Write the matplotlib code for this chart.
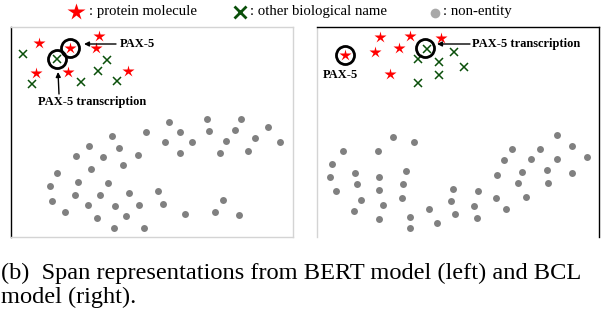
import numpy as np
import matplotlib.pyplot as plt

plt.rcParams['font.family'] = ['Liberation Serif', 'DejaVu Serif']

# ---- left panel (BERT) ----
l_star_x = [39, 99, 70, 96, 36, 68, 128]
l_star_y = [43, 36, 48, 48, 73, 72, 71]
l_cross_x = [23, 57, 107, 98, 32, 81, 117]
l_cross_y = [54, 59, 60, 71, 84, 82, 81]
l_dot_x = [169, 207, 241, 112, 146, 180, 209, 235, 268, 89, 119, 165, 192, 226, 255, 280,
           76, 103, 138, 180, 220, 248, 123, 91, 57, 78, 108, 50, 75, 100, 129, 158,
           52, 88, 115, 139, 163, 223, 65, 97, 126, 185, 215, 239, 114, 144]
l_dot_y = [122, 119, 119, 136, 132, 132, 131, 130, 127, 146, 148, 142, 142, 141, 138, 142,
           156, 157, 155, 153, 153, 151, 165, 169, 173, 182, 183, 186, 195, 195, 193, 191,
           201, 205, 206, 205, 204, 200, 212, 218, 216, 214, 212, 215, 228, 228]

# ---- right panel (BCL) ----
r_star_x = [380, 410, 441, 375, 399, 345, 390]
r_star_y = [37, 36, 38, 52, 48, 55, 74]
r_cross_x = [427, 418, 454, 439, 464, 439, 418]
r_cross_y = [49, 59, 52, 62, 67, 75, 83]
r_dot_x = [393, 414, 557, 343, 378, 512, 540, 572, 332, 504, 531, 557, 587,
           355, 406, 497, 522, 547, 572, 330, 379, 357, 403, 518, 548,
           336, 379, 453, 478, 361, 402, 496, 526, 451, 383, 474,
           354, 429, 506, 455, 379, 410, 477, 437, 410]
r_dot_y = [137, 142, 135, 151, 151, 149, 149, 146, 164, 160, 159, 159, 157,
           173, 171, 175, 172, 170, 173, 177, 177, 184, 184, 183, 183,
           191, 190, 189, 191, 200, 198, 198, 197, 201, 205, 206,
           211, 209, 209, 214, 219, 217, 218, 223, 228]

red = '#ff0000'
green = '#0a4f0a'
gray = '#808080'

fig = plt.figure(figsize=(6.12, 3.16), dpi=100)
W, H = 612, 316


def panel(x0, x1, y0, y1):
    ax = fig.add_axes([x0 / W, 1 - y1 / H, (x1 - x0) / W, (y1 - y0) / H])
    ax.set_xlim(x0, x1)
    ax.set_ylim(y1, y0)
    ax.set_xticks([])
    ax.set_yticks([])
    for s in ax.spines.values():
        s.set_color('#d4d4d4')
        s.set_linewidth(1)
    return ax


def draw(ax, sx, sy, cx, cy, dx, dy):
    ax.plot(dx, dy, 'o', color=gray, ms=5, mec='none', ls='none')
    ax.plot(cx, cy, 'x', color=green, ms=5.5, mew=1.1, ls='none')
    ax.plot(sx, sy, '*', color=red, ms=9, mec='none', ls='none')


def ring(ax, x, y):
    ax.plot(x, y, 'o', ms=13, mfc='none', mec='black', mew=2)


bold = dict(fontsize=8.9, fontweight='bold', va='center')
arrow = dict(arrowstyle='-|>', color='black', lw=1, mutation_scale=7, shrinkA=0, shrinkB=0)

# left
ax1 = panel(11, 293, 27, 237)
ax1.spines['left'].set_color('black')
draw(ax1, l_star_x, l_star_y, l_cross_x, l_cross_y, l_dot_x, l_dot_y)
ring(ax1, l_star_x[2], l_star_y[2])
ring(ax1, l_cross_x[1], l_cross_y[1])
ax1.annotate('', xy=(84, 44), xytext=(116, 44), arrowprops=arrow)
ax1.text(120, 44, 'PAX-5', ha='left', **bold)
ax1.annotate('', xy=(58, 72), xytext=(59, 94), arrowprops=arrow)
ax1.text(38, 102, 'PAX-5 transcription', ha='left', **bold)

# right
ax2 = panel(317, 599, 27, 237)
ax2.spines['top'].set_color('black')
ax2.spines['right'].set_color('black')
ax2.spines['bottom'].set_visible(False)
draw(ax2, r_star_x, r_star_y, r_cross_x, r_cross_y, r_dot_x, r_dot_y)
ring(ax2, r_star_x[5], r_star_y[5])
ring(ax2, 425, 48)
ax2.annotate('', xy=(437, 44), xytext=(470, 44), arrowprops=arrow)
ax2.text(472, 44, 'PAX-5 transcription', ha='left', **bold)
ax2.text(340, 75, 'PAX-5', ha='center', **bold)

# legend strip
lg = fig.add_axes([0, 0, 1, 1])
lg.set_xlim(0, W)
lg.set_ylim(H, 0)
lg.axis('off')
lg.plot(76, 12, '*', color=red, ms=13, mec='none')
lg.text(89, 12, ': protein molecule', fontsize=10.6, va='center')
lg.plot(240, 12, 'x', color=green, ms=8, mew=2)
lg.text(250, 12, ': other biological name', fontsize=10.6, va='center')
lg.plot(435, 13, 'o', color='#a8a8a8', ms=7, mec='none')
lg.text(443, 12, ': non-entity', fontsize=10.6, va='center')

lg.text(1, 303, '(b)  Span representations from BERT model (left) and BCL\nmodel (right).',
        fontsize=17.6, va='baseline', ha='left', linespacing=1.17)

fig.savefig('out.png', dpi=100)
